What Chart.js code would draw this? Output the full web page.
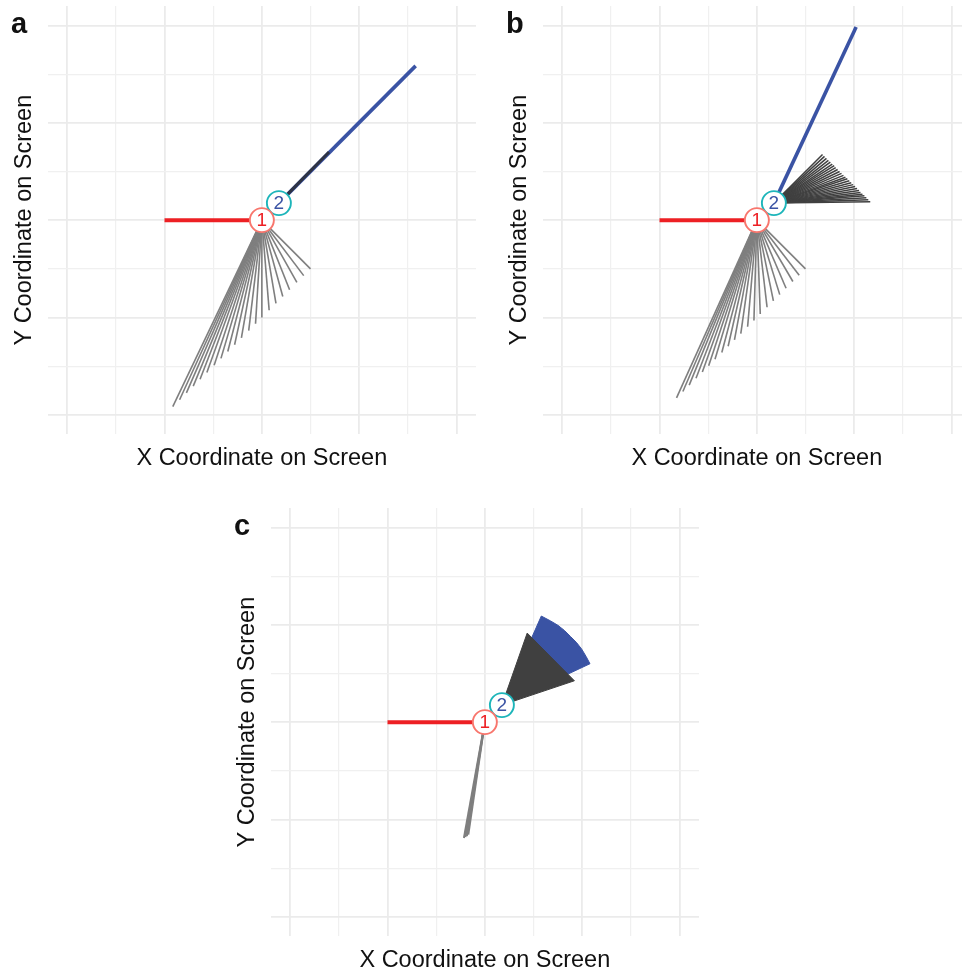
<!DOCTYPE html>
<html>
<head>
<meta charset="utf-8">
<script src="https://cdn.jsdelivr.net/npm/chart.js@4"></script>
<style>
	body { margin: 0; width: 962px; height: 970px; overflow: hidden; position: relative; background: #fff; }
	canvas { position: absolute; }
	.tag { position: absolute; font: bold 29px "Liberation Sans", Arial, sans-serif; line-height: 28px; color: #111; }
</style>
</head>
<body>
<canvas id="chartA" width="477" height="482" style="left:0; top:0"></canvas>
<canvas id="chartB" width="477" height="482" style="left:495px; top:0"></canvas>
<canvas id="chartC" width="477" height="482" style="left:223px; top:502px"></canvas>
<div class="tag" style="left:11px; top:9px">a</div>
<div class="tag" style="left:506px; top:9px">b</div>
<div class="tag" style="left:234px; top:511px">c</div>
<script>
// grid positions (no tick labels shown)
const gridValues = [-4, -3, -2, -1, 0, 1, 2, 3, 4];
const axisMin = -4.4;
const axisMax = 4.4;

// numbered markers
const markerX = [0, 0.35];
const markerY = [0, 0.35];
const markerText = ['1', '2'];

// red segment (same in every panel)
const redX = [-2, 0];
const redY = [0, 0];

// panel a
const aBlueX = [0.35, 3.16];
const aBlueY = [0.35, 3.17];
const aDarkX = [0.35, 1.38];
const aDarkY = [0.35, 1.40];
const aFanX = [1.00, 0.86, 0.72, 0.57, 0.43, 0.29, 0.15, 0.00, -0.13, -0.27, -0.42, -0.56, -0.70, -0.84, -0.98, -1.13, -1.27, -1.41, -1.55, -1.69, -1.83];
const aFanY = [-1.00, -1.14, -1.28, -1.43, -1.57, -1.71, -1.85, -2.00, -2.13, -2.27, -2.42, -2.56, -2.70, -2.84, -2.98, -3.13, -3.27, -3.41, -3.55, -3.69, -3.83];

// panel b
const bBlueX = [0.35, 2.04];
const bBlueY = [0.35, 3.97];
const bDarkFanX = [1.35, 1.39, 1.43, 1.47, 1.51, 1.55, 1.59, 1.62, 1.66, 1.70, 1.74, 1.78, 1.82, 1.86, 1.90, 1.94, 1.98, 2.02, 2.06, 2.10, 2.13, 2.17, 2.21, 2.25, 2.29, 2.33];
const bDarkFanY = [1.35, 1.31, 1.27, 1.23, 1.19, 1.15, 1.12, 1.08, 1.04, 1.00, 0.96, 0.92, 0.88, 0.85, 0.81, 0.77, 0.73, 0.69, 0.65, 0.61, 0.57, 0.53, 0.50, 0.46, 0.42, 0.38];
const bFanX = [1.00, 0.87, 0.74, 0.60, 0.47, 0.34, 0.21, 0.07, -0.06, -0.19, -0.33, -0.46, -0.59, -0.72, -0.86, -0.99, -1.12, -1.25, -1.39, -1.52, -1.65];
const bFanY = [-1.00, -1.13, -1.26, -1.40, -1.53, -1.66, -1.79, -1.93, -2.06, -2.19, -2.33, -2.46, -2.59, -2.72, -2.86, -2.99, -3.12, -3.25, -3.39, -3.52, -3.65];

// panel c
const cFanX = [-0.43, -0.40, -0.37, -0.34];
const cFanY = [-2.38, -2.36, -2.34, -2.31];
const cDarkX = [0.35, 0.87, 1.84, 0.35];
const cDarkY = [0.35, 1.83, 0.85, 0.35];
const cBlueX = [0.35, 1.16, 1.35, 1.50, 1.64, 1.76, 1.88, 1.99, 2.08, 2.16, 0.35];
const cBlueY = [0.35, 2.18, 2.08, 1.99, 1.88, 1.76, 1.64, 1.50, 1.35, 1.20, 0.35];

const RED = '#ED2024';
const BLUE = '#3A53A4';
const GRAY = '#7F7F7F';
const DARK = '#404040';
const FONT = '"Liberation Sans", Arial, Helvetica, sans-serif';

const pts = (xs, ys) => xs.map((x, i) => ({ x: x, y: ys[i] }));

const lineDs = (data, color, width) => ({
	data: data,
	showLine: true,
	borderColor: color,
	borderWidth: width,
	pointRadius: 0,
	fill: false,
	borderCapStyle: 'butt'
});

const shapeDs = (xs, ys, color) => ({
	data: pts(xs, ys),
	showLine: true,
	borderColor: color,
	backgroundColor: color,
	borderWidth: 1,
	pointRadius: 0,
	fill: 'shape'
});

// one segment per end point, all from the same origin
const fanDs = (ox, oy, xs, ys, color, width) =>
	xs.map((x, i) => lineDs([{ x: ox, y: oy }, { x: x, y: ys[i] }], color, width));

const markerDs = () => markerX.map((x, i) => ({
	data: [{ x: x, y: markerY[i] }],
	showLine: false,
	pointRadius: 12,
	pointBackgroundColor: '#ffffff',
	pointBorderColor: i === 0 ? '#F8766D' : '#1DB5BA',
	pointBorderWidth: 1.9
}));

// text inside the two circles
const markerLabels = {
	id: 'markerLabels',
	afterDatasetsDraw(chart) {
		const { ctx, scales } = chart;
		ctx.save();
		ctx.font = '19px ' + FONT;
		ctx.textAlign = 'center';
		ctx.textBaseline = 'middle';
		markerText.forEach((t, i) => {
			ctx.fillStyle = i === 0 ? RED : BLUE;
			ctx.fillText(t, scales.x.getPixelForValue(markerX[i]), scales.y.getPixelForValue(markerY[i]) + 1);
		});
		ctx.restore();
	}
};

const axisOpts = (title) => ({
	type: 'linear',
	min: axisMin,
	max: axisMax,
	afterBuildTicks: (axis) => { axis.ticks = gridValues.map(v => ({ value: v })); },
	ticks: { display: false },
	border: { display: false },
	grid: {
		drawTicks: false,
		color: (c) => (c.tick && c.tick.value % 2 === 0) ? '#EBEBEB' : '#F0F0F0',
		lineWidth: (c) => (c.tick && c.tick.value % 2 === 0) ? 1.8 : 1.2
	},
	title: {
		display: true,
		text: title,
		color: '#111',
		font: { family: FONT, size: 23.5 },
		padding: { top: 10, bottom: 9.5 }
	}
});

const makeChart = (id, layers) => {
	// layers are listed bottom first; Chart.js draws the first dataset on top
	const datasets = layers.concat(markerDs().reverse()).reverse();
	return new Chart(document.getElementById(id), {
		type: 'scatter',
		data: { datasets: datasets },
		options: {
			responsive: false,
			animation: false,
			devicePixelRatio: 1,
			layout: { autoPadding: false, padding: { top: 6, right: 1, bottom: 0, left: 0 } },
			plugins: { legend: { display: false }, tooltip: { enabled: false } },
			scales: {
				x: axisOpts('X Coordinate on Screen'),
				y: axisOpts('Y Coordinate on Screen')
			}
		},
		plugins: [markerLabels]
	});
};

makeChart('chartA', [
	lineDs(pts(redX, redY), RED, 4),
	...fanDs(0, 0, aFanX, aFanY, GRAY, 1.6),
	lineDs(pts(aBlueX, aBlueY), BLUE, 3.6),
	lineDs(pts(aDarkX, aDarkY), '#2E3344', 3)
]);

makeChart('chartB', [
	lineDs(pts(redX, redY), RED, 4),
	...fanDs(0, 0, bFanX, bFanY, GRAY, 1.6),
	...fanDs(0.35, 0.35, bDarkFanX, bDarkFanY, DARK, 1.5),
	lineDs(pts(bBlueX, bBlueY), BLUE, 3.6)
]);

makeChart('chartC', [
	lineDs(pts(redX, redY), RED, 4),
	...fanDs(0, 0, cFanX, cFanY, GRAY, 2),
	shapeDs(cBlueX, cBlueY, BLUE),
	shapeDs(cDarkX, cDarkY, DARK)
]);
</script>
</body>
</html>
